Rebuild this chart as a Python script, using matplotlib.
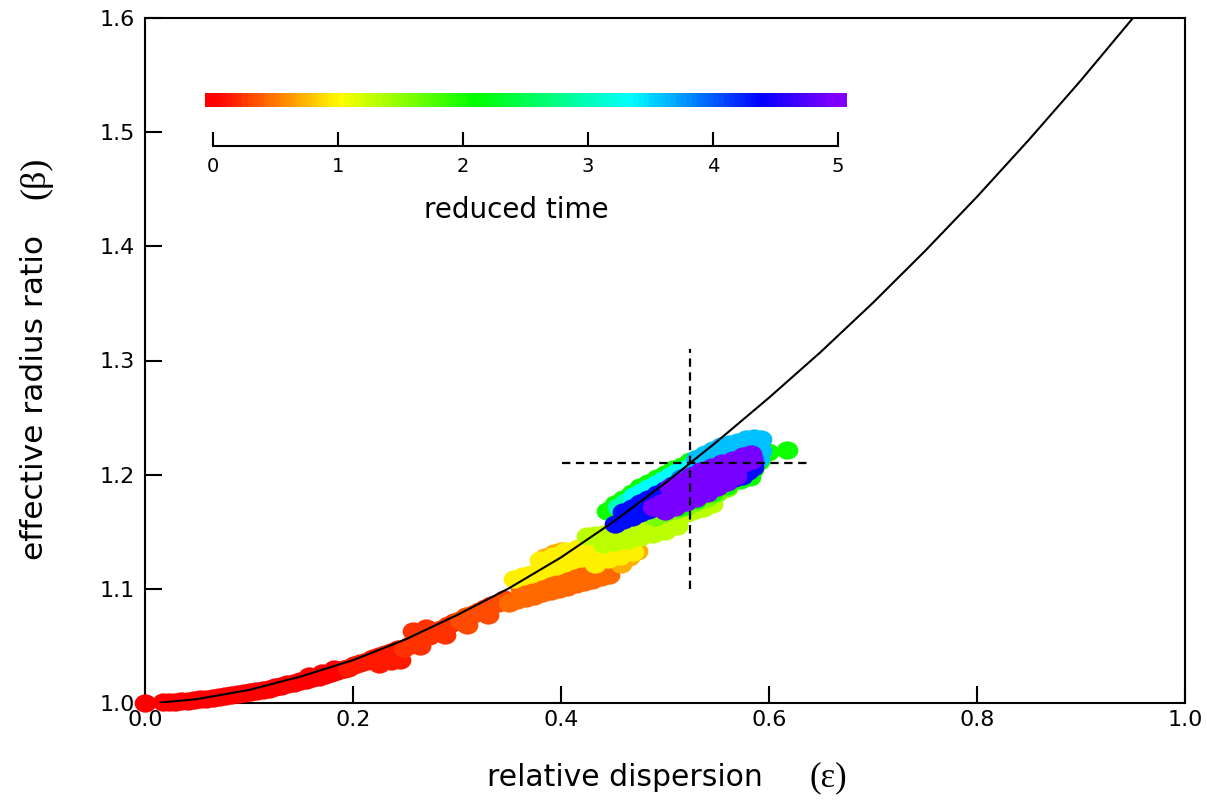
import numpy as np
import matplotlib
matplotlib.use("Agg")
import matplotlib.pyplot as plt
from matplotlib.colors import LinearSegmentedColormap, Normalize
from matplotlib.path import Path
from matplotlib.transforms import Affine2D

# ==== data ====
# theoretical curve beta(eps)
curve_eps = [0.015, 0.05, 0.1, 0.15, 0.2, 0.25, 0.3, 0.35, 0.4, 0.45, 0.5,
             0.55, 0.6, 0.65, 0.7, 0.75, 0.8, 0.85, 0.9, 0.955]
curve_beta = [1.0004, 1.0034, 1.0114, 1.0233, 1.0375, 1.0555, 1.0770, 1.1005,
              1.1275, 1.1585, 1.1925, 1.2290, 1.2674, 1.3077, 1.3506, 1.3959,
              1.4434, 1.4934, 1.5455, 1.6055]

# scatter groups: reduced time, eps, beta
t_red = 0.0
eps_red = [0.0, 0.017, 0.023, 0.029, 0.035, 0.041, 0.047, 0.053, 0.059, 0.065,
           0.071, 0.077, 0.083, 0.089, 0.095, 0.101, 0.107, 0.113, 0.119, 0.125,
           0.131, 0.137, 0.143, 0.149, 0.155, 0.161, 0.167, 0.173, 0.179, 0.185,
           0.191, 0.158, 0.17, 0.182]
beta_red = [1.0, 1.0005, 1.0008, 1.0011, 1.0015, 1.0020, 1.0025, 1.0031, 1.0037, 1.0044,
            1.0051, 1.0059, 1.0067, 1.0076, 1.0085, 1.0095, 1.0105, 1.0116, 1.0127, 1.0139,
            1.0151, 1.0163, 1.0176, 1.0189, 1.0203, 1.0217, 1.0232, 1.0247, 1.0262, 1.0278,
            1.0294, 1.0235, 1.0265, 1.0300]

t_red2 = 0.1
eps_red2 = [0.195, 0.201, 0.207, 0.213, 0.219, 0.225, 0.231, 0.237, 0.243, 0.225, 0.237, 0.245]
beta_red2 = [1.031, 1.033, 1.035, 1.037, 1.039, 1.041, 1.043, 1.045, 1.047, 1.034, 1.037, 1.038]

t_redor = 0.2
eps_redor = [0.249, 0.255, 0.261, 0.267, 0.273, 0.279, 0.285, 0.291, 0.297,
             0.258, 0.27, 0.264, 0.288]
beta_redor = [1.048, 1.051, 1.054, 1.057, 1.059, 1.062, 1.065, 1.068, 1.071,
              1.063, 1.066, 1.050, 1.060]

t_or1 = 0.3
eps_or1 = [0.303, 0.309, 0.315, 0.321, 0.327, 0.333, 0.339, 0.345, 0.31, 0.33]
beta_or1 = [1.073, 1.076, 1.078, 1.081, 1.083, 1.086, 1.088, 1.091, 1.068, 1.077]

t_or2 = 0.42
eps_or2 = [0.35, 0.358, 0.366, 0.374, 0.382, 0.39, 0.398, 0.406, 0.414, 0.422,
           0.43, 0.438, 0.446,
           0.362, 0.374, 0.386, 0.398, 0.41, 0.422, 0.434]
beta_or2 = [1.088, 1.090, 1.092, 1.094, 1.096, 1.098, 1.100, 1.102, 1.104, 1.106,
            1.108, 1.110, 1.112,
            1.101, 1.104, 1.107, 1.110, 1.113, 1.116, 1.119]

t_ltor = 0.7
eps_ltor = [0.385, 0.393, 0.40, 0.465, 0.473, 0.458]
beta_ltor = [1.128, 1.131, 1.133, 1.128, 1.133, 1.122]

t_yel = 0.95
eps_yel = [0.355, 0.363, 0.371, 0.379, 0.387, 0.395, 0.403, 0.411, 0.419, 0.427,
           0.435, 0.443, 0.451, 0.459, 0.467,
           0.38, 0.392, 0.404, 0.416, 0.428, 0.44,
           0.433, 0.445, 0.457, 0.469]
beta_yel = [1.109, 1.111, 1.113, 1.116, 1.118, 1.120, 1.123, 1.125, 1.127, 1.130,
            1.132, 1.134, 1.137, 1.139, 1.141,
            1.125, 1.129, 1.133, 1.136, 1.139, 1.142,
            1.122, 1.126, 1.129, 1.132]

t_ygr = 1.3
eps_ygr = [0.425, 0.433, 0.441, 0.449, 0.457, 0.465, 0.473, 0.481, 0.489, 0.497,
           0.505, 0.513, 0.521, 0.529, 0.537, 0.545,
           0.44, 0.452, 0.464, 0.476, 0.488, 0.5, 0.512]
beta_ygr = [1.146, 1.147, 1.148, 1.150, 1.151, 1.152, 1.153, 1.155, 1.157, 1.159,
            1.161, 1.164, 1.166, 1.169, 1.171, 1.174,
            1.139, 1.141, 1.143, 1.145, 1.148, 1.151, 1.155]

t_lime = 1.6
eps_lime = [0.49, 0.5, 0.51, 0.52, 0.53, 0.54, 0.55, 0.56]
beta_lime = [1.163, 1.166, 1.169, 1.172, 1.176, 1.180, 1.184, 1.188]

t_grn = 2.05
eps_grn = [0.444, 0.452, 0.46, 0.468, 0.476, 0.484, 0.492, 0.5, 0.508, 0.516,
           0.524, 0.532, 0.54, 0.548, 0.556,
           0.599, 0.617, 0.59, 0.585, 0.582, 0.593,
           0.515, 0.53, 0.545, 0.56, 0.572]
beta_grn = [1.168, 1.174, 1.179, 1.184, 1.189, 1.193, 1.197, 1.201, 1.205, 1.208,
            1.212, 1.215, 1.218, 1.221, 1.223,
            1.220, 1.222, 1.212, 1.205, 1.198, 1.218,
            1.172, 1.178, 1.184, 1.190, 1.195]

t_teal = 3.0
eps_teal = [0.455, 0.462, 0.47, 0.478]
beta_teal = [1.172, 1.176, 1.181, 1.185]

t_cyan = 3.35
eps_cyan = [0.47, 0.477, 0.484, 0.491, 0.498, 0.505, 0.512, 0.519, 0.526, 0.533,
            0.54, 0.547]
beta_cyan = [1.181, 1.185, 1.188, 1.192, 1.195, 1.199, 1.202, 1.205, 1.208, 1.211,
             1.213, 1.216]

t_sky = 3.6
eps_sky = [0.53, 0.538, 0.546, 0.554, 0.562, 0.57, 0.578, 0.586, 0.592,
           0.592, 0.585, 0.575, 0.565, 0.555, 0.545, 0.59]
beta_sky = [1.214, 1.218, 1.222, 1.225, 1.227, 1.229, 1.231, 1.232, 1.231,
            1.222, 1.222, 1.220, 1.217, 1.213, 1.210, 1.215]

t_mblue = 3.9
eps_mblue = [0.515, 0.525, 0.535, 0.545, 0.555, 0.565, 0.575, 0.585]
beta_mblue = [1.197, 1.200, 1.203, 1.206, 1.209, 1.211, 1.213, 1.214]

t_blue = 4.35
eps_blue = [0.452, 0.46, 0.468, 0.476, 0.484, 0.492, 0.5,
            0.46, 0.468, 0.476, 0.484, 0.492, 0.5, 0.508, 0.516, 0.524, 0.532,
            0.55, 0.558, 0.566, 0.574, 0.58, 0.585]
beta_blue = [1.157, 1.160, 1.163, 1.166, 1.169, 1.172, 1.175,
             1.167, 1.171, 1.175, 1.179, 1.183, 1.187, 1.191, 1.194, 1.197, 1.199,
             1.192, 1.194, 1.197, 1.199, 1.203, 1.207]

t_purp = 4.95
eps_purp = [0.488, 0.496, 0.504, 0.512, 0.52, 0.528, 0.536, 0.544, 0.552, 0.56,
            0.568, 0.576, 0.584,
            0.505, 0.515, 0.525, 0.535, 0.545, 0.555, 0.565, 0.575, 0.583,
            0.5, 0.51, 0.52, 0.53, 0.54, 0.55, 0.56, 0.568]
beta_purp = [1.172, 1.175, 1.179, 1.182, 1.186, 1.189, 1.193, 1.196, 1.199, 1.203,
             1.206, 1.210, 1.213,
             1.189, 1.194, 1.199, 1.203, 1.207, 1.210, 1.213, 1.216, 1.218,
             1.168, 1.172, 1.176, 1.180, 1.184, 1.189, 1.194, 1.199]

groups = [
    (t_red, eps_red, beta_red), (t_red2, eps_red2, beta_red2),
    (t_redor, eps_redor, beta_redor), (t_or1, eps_or1, beta_or1),
    (t_or2, eps_or2, beta_or2), (t_ltor, eps_ltor, beta_ltor),
    (t_yel, eps_yel, beta_yel), (t_ygr, eps_ygr, beta_ygr),
    (t_lime, eps_lime, beta_lime), (t_grn, eps_grn, beta_grn),
    (t_teal, eps_teal, beta_teal), (t_cyan, eps_cyan, beta_cyan),
    (t_sky, eps_sky, beta_sky), (t_mblue, eps_mblue, beta_mblue),
    (t_blue, eps_blue, beta_blue), (t_purp, eps_purp, beta_purp),
]

# crosshair
cross_eps, cross_beta = 0.5237, 1.21
cross_h = (0.401, 0.637)
cross_v = (1.10, 1.31)

cbar_ticks = [0, 1, 2, 3, 4, 5]

# ==== style ====
plt.rcParams['font.family'] = 'DejaVu Sans'
plt.rcParams['lines.scale_dashes'] = False

cmap = LinearSegmentedColormap.from_list(
    'rt', [(0.0, '#ff0000'), (0.2, '#ffff00'), (0.42, '#00ff00'),
           (0.67, '#00ffff'), (0.88, '#0000ff'), (1.0, '#8000ff')])
norm = Normalize(0, 5)

# image is stretched horizontally -> elliptical dots
dot = Path.unit_circle().transformed(Affine2D().scale(1.19, 1.0))

W, H = 1207, 801
fig = plt.figure(figsize=(W / 100, H / 100), dpi=100)
ax = fig.add_axes([145 / W, 98 / H, 1040 / W, 685 / H])

for t, e, b in groups:
    ax.scatter(e, b, s=245, marker=dot, color=cmap(norm(t)), linewidths=0,
               zorder=3, clip_on=False)

ax.plot(curve_eps, curve_beta, color='black', lw=1.5, zorder=4)
ax.plot(cross_h, [cross_beta, cross_beta], color='black', lw=1.6,
        dashes=(6, 4), zorder=5)
ax.plot([cross_eps, cross_eps], cross_v, color='black', lw=1.6,
        dashes=(6, 4), zorder=5)

ax.set_xlim(0, 1)
ax.set_ylim(1.0, 1.6)
ax.set_xticks([0.0, 0.2, 0.4, 0.6, 0.8, 1.0])
ax.set_yticks([1.0, 1.1, 1.2, 1.3, 1.4, 1.5, 1.6])
ax.set_xticklabels(['0.0', '0.2', '0.4', '0.6', '0.8', '1.0'])
ax.set_yticklabels(['1.0', '1.1', '1.2', '1.3', '1.4', '1.5', '1.6'])
ax.tick_params(direction='in', length=12, width=1.5, labelsize=16)
ax.tick_params(axis='x', pad=5)
ax.tick_params(axis='y', pad=7)
for sp in ax.spines.values():
    sp.set_linewidth(1.5)

# colour bar
cax = fig.add_axes([205 / W, (H - 107) / H, 642 / W, 14 / H])
grad = np.linspace(-0.064, 5.072, 120).reshape(1, -1)
cax.imshow(grad, aspect='auto', cmap=cmap, norm=norm, interpolation='nearest')
cax.set_axis_off()

tax = fig.add_axes([213 / W, (H - 146) / H, 625 / W, 0.0001])
tax.set_facecolor('none')
for k in ['top', 'left', 'right']:
    tax.spines[k].set_visible(False)
tax.spines['bottom'].set_linewidth(1.5)
tax.set_xlim(0, 5)
tax.set_xticks(cbar_ticks)
tax.set_yticks([])
tax.tick_params(axis='x', direction='in', length=10, width=1.5, labelsize=14, pad=8)
fig.text(516 / W, 1 - 210 / H, 'reduced time', fontsize=20, ha='center', va='center')

# axis labels
fig.text(625 / W, 1 - 778 / H, 'relative dispersion', fontsize=21.5,
         ha='center', va='center')
fig.text(828 / W, 1 - 778 / H, '(ε)', fontsize=25, family='Liberation Serif',
         ha='center', va='center')
fig.text(35 / W, 1 - 398 / H, 'effective radius ratio', fontsize=22.5,
         rotation=90, ha='center', va='center')
fig.text(36 / W, 1 - 178 / H, '(β)', fontsize=26, family='Liberation Serif',
         rotation=90, ha='center', va='center')

fig.savefig('out.png', dpi=100)
